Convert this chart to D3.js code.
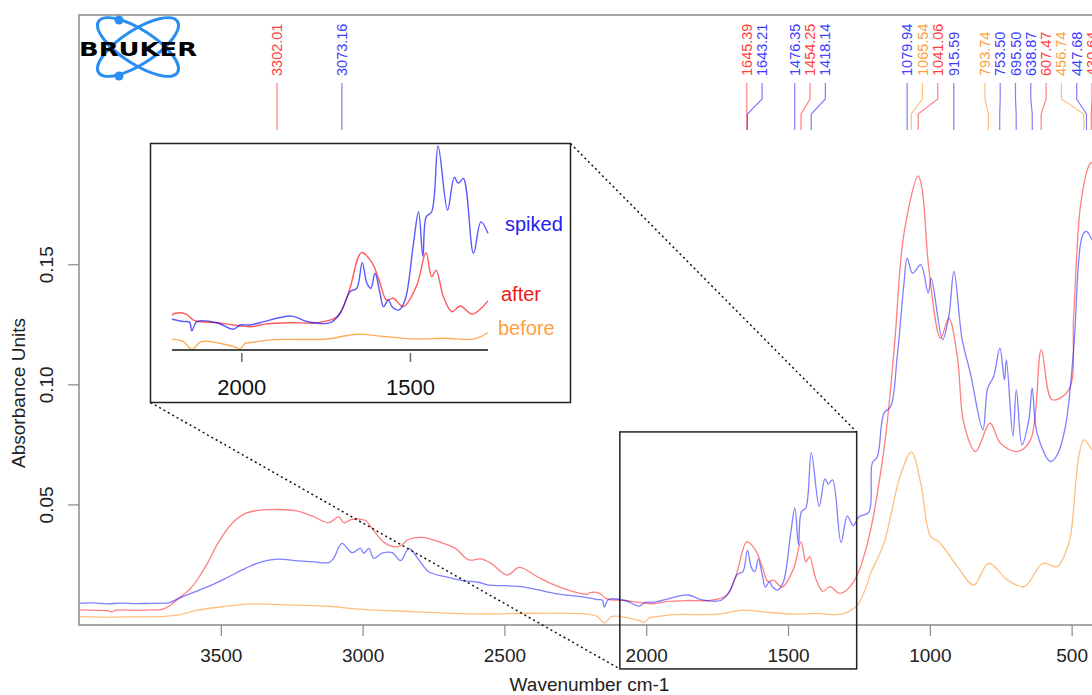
<!DOCTYPE html>
<html>
<head>
<meta charset="utf-8">
<script src="https://cdn.jsdelivr.net/npm/d3@7"></script>
<style>
  html, body { margin: 0; padding: 0; background: #fff; }
  svg { display: block; font-family: "Liberation Sans", Arial, sans-serif; }
</style>
</head>
<body>
<svg id="chart" width="1092" height="695"></svg>
<script>
// ---------------- DATA ----------------
const spikedWn = [4000,3950,3900,3850,3800,3750,3700,3683,3648,3589,3531,3472,3413,3354,3296,3237,3178,3119,3102,3073,3037,3008,2996,2978,2961,2931,2896,2866,2837,2802,2767,2708,2649,2591,2560,2442,2325,2207,2173,2155,2148,2133,2074,2025,2005,1975,1946,1852,1807,1738,1708,1679,1659,1643,1629,1617,1605,1590,1580,1565,1555,1535,1516,1491,1476,1463,1453,1437,1418,1390,1370,1358,1343,1313,1291,1270,1250,1215,1203,1185,1162,1138,1115,1091,1080,1061,1032,1006,995,955,933,915,886,857,813,796,775,753,737,730,707,695,675,651,639,622,575,551,522,493,463,448,427,410];
const spikedAbs = [0.0090,0.0092,0.0088,0.0091,0.0089,0.0090,0.0091,0.0092,0.0111,0.0139,0.0167,0.0201,0.0236,0.0264,0.0274,0.0268,0.0264,0.0260,0.0278,0.0340,0.0301,0.0319,0.0299,0.0319,0.0278,0.0299,0.0301,0.0268,0.0319,0.0271,0.0222,0.0201,0.0185,0.0178,0.0167,0.0160,0.0132,0.0114,0.0106,0.0104,0.0074,0.0106,0.0102,0.0079,0.0094,0.0094,0.0102,0.0125,0.0106,0.0102,0.0135,0.0210,0.0222,0.0311,0.0239,0.0222,0.0274,0.0204,0.0158,0.0181,0.0158,0.0146,0.0181,0.0378,0.0488,0.0332,0.0471,0.0488,0.0717,0.0494,0.0608,0.0587,0.0604,0.0343,0.0453,0.0413,0.0451,0.0470,0.0674,0.0701,0.0882,0.0910,0.1118,0.1424,0.1528,0.1465,0.1500,0.1382,0.1444,0.1188,0.1285,0.1472,0.1188,0.1049,0.0813,0.0986,0.1035,0.1153,0.1021,0.1104,0.0785,0.0979,0.0750,0.0854,0.0986,0.0799,0.0681,0.0708,0.0826,0.1146,0.1618,0.1639,0.1604,0.1580];

const afterWn = [4000,3950,3900,3883,3870,3800,3750,3707,3677,3648,3601,3554,3507,3460,3413,3354,3302,3237,3178,3119,3084,3066,3037,2990,2967,2920,2873,2837,2790,2732,2673,2626,2583,2548,2489,2448,2384,2325,2266,2207,2198,2165,2140,2074,2025,1975,1926,1852,1778,1718,1684,1645,1614,1590,1571,1551,1521,1481,1454,1437,1424,1402,1377,1352,1317,1270,1220,1162,1126,1091,1041,1027,1003,962,933,903,880,839,788,751,692,645,607,569,510,493,469,440,430,420,410];
const afterAbs = [0.0063,0.0061,0.0060,0.0055,0.0062,0.0061,0.0063,0.0065,0.0083,0.0111,0.0160,0.0243,0.0347,0.0424,0.0465,0.0479,0.0481,0.0476,0.0454,0.0426,0.0451,0.0426,0.0440,0.0435,0.0403,0.0340,0.0326,0.0357,0.0365,0.0347,0.0319,0.0271,0.0275,0.0257,0.0208,0.0240,0.0201,0.0167,0.0142,0.0128,0.0135,0.0132,0.0109,0.0102,0.0094,0.0088,0.0098,0.0102,0.0102,0.0123,0.0204,0.0346,0.0311,0.0239,0.0181,0.0187,0.0158,0.0233,0.0346,0.0262,0.0285,0.0192,0.0140,0.0160,0.0132,0.0178,0.0340,0.0729,0.1146,0.1632,0.1870,0.1813,0.1479,0.1194,0.1278,0.1118,0.0840,0.0722,0.0840,0.0757,0.0722,0.0771,0.1146,0.0938,0.0979,0.1285,0.1743,0.1910,0.1925,0.1922,0.1930];

const beforeWn = [4000,3900,3800,3765,3700,3648,3589,3495,3390,3237,3119,3002,2826,2591,2400,2206,2173,2148,2120,2025,2005,1990,1975,1900,1750,1659,1580,1480,1400,1313,1270,1250,1220,1209,1162,1105,1065,1032,997,968,903,845,793,727,667,602,551,522,504,475,457,440,427,410];
const beforeAbs = [0.0035,0.0033,0.0034,0.0034,0.0036,0.0042,0.0060,0.0076,0.0088,0.0083,0.0078,0.0065,0.0056,0.0046,0.0049,0.0045,0.0036,0.0009,0.0036,0.0019,0.0011,0.0030,0.0033,0.0043,0.0045,0.0062,0.0054,0.0045,0.0048,0.0045,0.0067,0.0090,0.0174,0.0215,0.0340,0.0618,0.0720,0.0590,0.0368,0.0347,0.0243,0.0167,0.0257,0.0188,0.0160,0.0257,0.0243,0.0299,0.0368,0.0701,0.0771,0.0750,0.0729,0.0720];

const peakWn = [3302.01,3073.16,1645.39,1643.21,1476.35,1454.25,1418.14,1079.94,1065.54,1041.06,915.59,793.74,753.50,695.50,638.87,607.47,456.74,447.68,430.64];
const peakSeries = ["after","spiked","after","spiked","spiked","after","spiked","spiked","before","after","spiked","before","spiked","spiked","spiked","after","before","spiked","after"];

const xTicks = [3500,3000,2500,2000,1500,1000,500];
const yTicks = [0.05,0.10,0.15];
const insetTicks = [2000,1500];
const zoomWn = [2093,1258];
const zoomAbs = [-0.0183,0.0804];
const seriesNames = ["spiked","after","before"];

// ---------------- STYLE ----------------
const lineCol = {spiked:"rgb(0,0,255)", after:"rgb(255,0,0)", before:"rgb(255,127,0)"};
const textCol = {spiked:"#4040ff", after:"#ff4040", before:"#ffa040"};
const insetTextCol = {spiked:"#2222ee", after:"#ee1818", before:"#ffa040"};
const seriesData = {
  spiked: spikedWn.map((w,i)=>[w,spikedAbs[i]]),
  after: afterWn.map((w,i)=>[w,afterAbs[i]]),
  before: beforeWn.map((w,i)=>[w,beforeAbs[i]])
};

const svg = d3.select("#chart");
const L = 79, R = 1100, T = 15, B = 625;
const x = d3.scaleLinear().domain([4000,400]).range([L,R]);
const y = d3.scaleLinear().domain([0,0.254]).range([B,T]);

svg.append("defs").append("clipPath").attr("id","plotclip")
  .append("rect").attr("x",L).attr("y",T).attr("width",R-L).attr("height",B-T);

// curves
const line = d3.line().x(d=>x(d[0])).y(d=>y(d[1])).curve(d3.curveCatmullRom.alpha(0.5));
const gc = svg.append("g").attr("clip-path","url(#plotclip)");
["before","after","spiked"].forEach(s=>{
  gc.append("path").datum(seriesData[s]).attr("d",line)
    .attr("fill","none").attr("stroke",lineCol[s]).attr("stroke-opacity",0.5)
    .attr("stroke-width",1.3).attr("stroke-linejoin","round");
});

// frame
svg.append("rect").attr("x",L).attr("y",T).attr("width",R-L).attr("height",B-T)
  .attr("fill","none").attr("stroke","#8a8a8a").attr("stroke-width",1.5);

// x axis
const xa = svg.append("g").attr("transform",`translate(0,${B})`)
  .call(d3.axisBottom(x).tickValues(xTicks).tickSize(11).tickPadding(13).tickFormat(d3.format("d")));
xa.select(".domain").remove();
xa.selectAll("line").attr("stroke","#8a8a8a").attr("stroke-width",1.2);
xa.selectAll("text").attr("font-size",19).attr("fill","#222").attr("font-family","Liberation Sans, Arial, sans-serif");

// y axis
const ya = svg.append("g");
ya.selectAll("line").data(yTicks).join("line")
  .attr("x1",L-11).attr("x2",L).attr("y1",d=>y(d)).attr("y2",d=>y(d))
  .attr("stroke","#8a8a8a").attr("stroke-width",1.2);
ya.selectAll("text").data(yTicks).join("text")
  .attr("transform",d=>`translate(53,${y(d)}) rotate(-90)`)
  .attr("text-anchor","middle").attr("font-size",19).attr("fill","#222")
  .text(d=>d3.format(".2f")(d));

svg.append("text").attr("transform","translate(25,393) rotate(-90)")
  .attr("text-anchor","middle").attr("font-size",19).attr("fill","#222").text("Absorbance Units");
svg.append("text").attr("x",(L+R)/2).attr("y",691).attr("text-anchor","middle")
  .attr("font-size",19).attr("fill","#222").text("Wavenumber cm-1");

// peak labels with repel layout
const peaks = peakWn.map((w,i)=>({wn:w, s:peakSeries[i], px:x(w)})).sort((a,b)=>a.px-b.px);
const gap = 15.3, limit = 1092;
peaks.forEach((p,i)=>{ p.lx = i===0 ? p.px : Math.max(p.px, peaks[i-1].lx+gap); });
for (let i=peaks.length-1;i>=0;i--) {
  const cap = i===peaks.length-1 ? limit : peaks[i+1].lx-gap;
  peaks[i].lx = Math.min(peaks[i].lx, cap);
}
const gp = svg.append("g");
peaks.forEach(p=>{
  gp.append("path")
    .attr("d",`M${p.lx},83 L${p.lx},99 L${p.px},114 L${p.px},130`)
    .attr("fill","none").attr("stroke",lineCol[p.s]).attr("stroke-opacity",0.5).attr("stroke-width",1.2);
  gp.append("text").attr("transform",`translate(${p.lx},76) rotate(-90)`)
    .attr("dy","0.35em").attr("text-anchor","start").attr("font-size",14.5)
    .attr("fill",textCol[p.s]).text(p.wn.toFixed(2));
});

// zoom rectangle in main plot
const zx0 = x(zoomWn[0]), zx1 = x(zoomWn[1]), zy0 = y(zoomAbs[1]), zy1 = y(zoomAbs[0]);
svg.append("rect").attr("x",zx0).attr("y",zy0).attr("width",zx1-zx0).attr("height",zy1-zy0)
  .attr("fill","none").attr("stroke","#222").attr("stroke-width",1.5);

// inset
const IL = 150.5, IT = 143.5, IR = 570.5, IB = 402.5;
svg.append("line").attr("x1",IR).attr("y1",IT).attr("x2",zx1).attr("y2",zy0)
  .attr("stroke","#111").attr("stroke-width",1.5).attr("stroke-dasharray","2,3");
svg.append("line").attr("x1",IL).attr("y1",IB).attr("x2",zx0).attr("y2",zy1)
  .attr("stroke","#111").attr("stroke-width",1.5).attr("stroke-dasharray","2,3");
svg.append("rect").attr("x",IL).attr("y",IT).attr("width",IR-IL).attr("height",IB-IT)
  .attr("fill","#fff").attr("stroke","#222").attr("stroke-width",1.5);

const ix = d3.scaleLinear().domain([2207,1270]).range([172,488]);
const iy = d3.scaleLinear().domain([0,0.0717]).range([352,146]);
const iline = d3.line().x(d=>ix(d[0])).y(d=>iy(d[1])).curve(d3.curveCatmullRom.alpha(0.5));
const gi = svg.append("g");
["before","after","spiked"].forEach(s=>{
  const pts = seriesData[s].filter(d=>d[0]<=2207 && d[0]>=1270);
  gi.append("path").datum(pts).attr("d",iline)
    .attr("fill","none").attr("stroke",lineCol[s]).attr("stroke-opacity",0.65)
    .attr("stroke-width",1.4).attr("stroke-linejoin","round");
});
gi.append("line").attr("x1",172).attr("x2",488).attr("y1",350).attr("y2",350)
  .attr("stroke","#111").attr("stroke-width",1.5);
gi.selectAll(".it").data(insetTicks).join("line")
  .attr("x1",d=>ix(d)).attr("x2",d=>ix(d)).attr("y1",353).attr("y2",362)
  .attr("stroke","#666").attr("stroke-width",1.5);
gi.selectAll(".itl").data(insetTicks).join("text")
  .attr("x",d=>ix(d)).attr("y",395).attr("text-anchor","middle")
  .attr("font-size",22).attr("fill","#111").text(d=>d);

const labelX = {spiked:505, after:501, before:498};
const labelDy = {spiked:-2, after:0, before:2};
seriesNames.forEach(s=>{
  const pts = seriesData[s].filter(d=>d[0]>=1270);
  const last = pts[pts.length-1];
  gi.append("text").attr("x",labelX[s]).attr("y",iy(last[1])+labelDy[s])
    .attr("font-size",20).attr("fill",insetTextCol[s]).text(s);
});

// Bruker logo
const lg = svg.append("g");
[33,-33].forEach(a=>{
  lg.append("ellipse").attr("cx",138).attr("cy",47).attr("rx",47).attr("ry",17)
    .attr("transform",`rotate(${a},138,47)`)
    .attr("fill","none").attr("stroke","#2a8ef0").attr("stroke-width",3);
});
lg.append("circle").attr("cx",119).attr("cy",20).attr("r",4.5).attr("fill","#2a8ef0");
lg.append("circle").attr("cx",119).attr("cy",76).attr("r",4.5).attr("fill","#2a8ef0");
lg.append("text").attr("x",79).attr("y",56).attr("font-size",19).attr("font-weight",900)
  .attr("font-family","DejaVu Sans, sans-serif").attr("fill","#000")
  .attr("textLength",118).attr("lengthAdjust","spacingAndGlyphs").text("BRUKER");
</script>
</body>
</html>
